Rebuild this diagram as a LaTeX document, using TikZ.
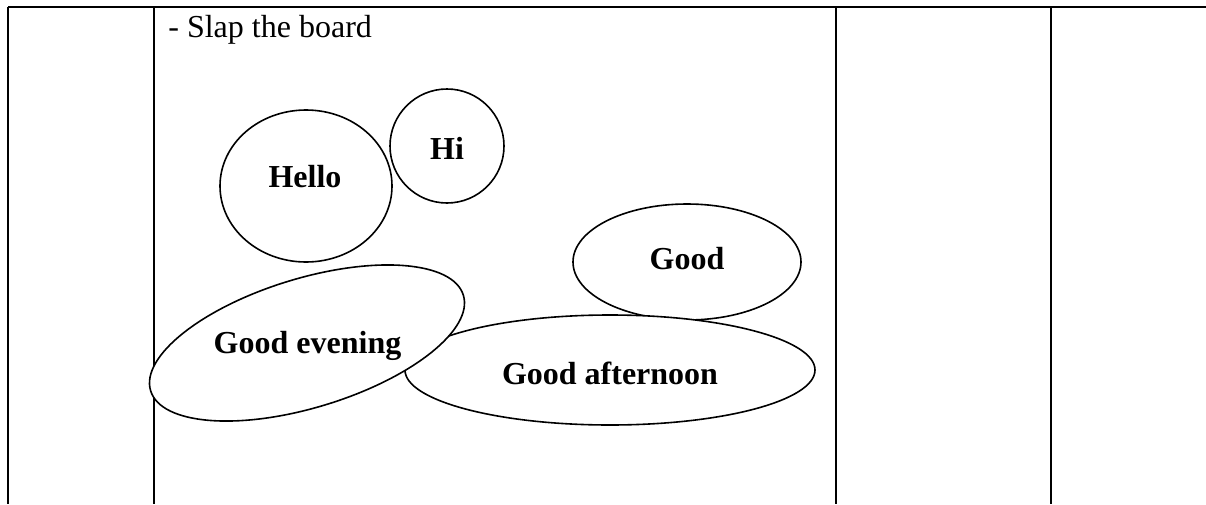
\documentclass[tikz,border=0pt]{standalone}
\usepackage{fontspec}
\setmainfont{Liberation Serif}
\usepackage{tikz}
\usetikzlibrary{shapes}
\usetikzlibrary{positioning}
\tikzset{
    rule/.style={draw=black, line width=1pt},
    bubble/.style={ellipse, draw=black, fill=white, line width=0.8pt, inner sep=0pt},
    word/.style={anchor=base, font=\bfseries\fontsize{16}{19}\selectfont, inner sep=0pt},
    plain/.style={anchor=base west, font=\fontsize{16}{19}\selectfont, inner sep=0pt},
}
\begin{document}
\begin{tikzpicture}[x=0.5pt, y=-0.5pt]
	\useasboundingbox (0,0) rectangle (1206,504);
	% table rules
	\coordinate (tl) at (8,7);
	\coordinate (tr) at (1206,7);
	\draw[rule] (tl)--(tr);
	\foreach \c in {8,154,836,1051}
		\draw[rule] (\c,7)--(\c,504);
	\node[plain] (slap) at (168,37) {- Slap the board};
	% bubbles, back to front
	\node[bubble, minimum width=114pt, minimum height=58pt] (good) at (687,262) {};
	\node[bubble, minimum width=205pt, minimum height=55pt] (afternoon) at (610,370) {};
	\node[bubble, minimum width=163.5pt, minimum height=64.5pt, rotate=17] (evening) at (307,343) {};
	\node[bubble, minimum width=86pt, minimum height=76pt] (hello) at (306,186) {};
	\node[bubble, minimum width=57pt, minimum height=57pt] (hi) at (447,146) {};
	% words
	\node[word] (thello) at (305,187) {Hello};
	\node[word] (thi) at (447,159) {Hi};
	\node[word] (tgood) at (687,269) {Good};
	\node[word] (tafternoon) at (610,384) {Good afternoon};
	\node[word] (tevening) at (307.5,353) {Good evening};
\end{tikzpicture}
\end{document}
